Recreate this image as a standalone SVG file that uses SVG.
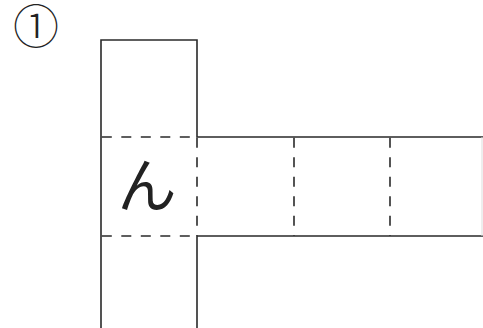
<svg xmlns="http://www.w3.org/2000/svg" width="483" height="328" viewBox="0 0 483 328">
<style>
.s{stroke:#2a2a2a;stroke-width:1.6;fill:none}
.d{stroke:#2a2a2a;stroke-width:1.6;fill:none;stroke-dasharray:10 9.5}
.t{font-family:"Liberation Serif","Noto Sans CJK JP",serif;fill:#222}
</style>
<rect width="483" height="328" fill="#fff"/>
<text class="t" x="36" y="43" font-size="46" font-weight="300" text-anchor="middle">①</text>
<g id="connectors">
<path class="s" d="M101 328V40H197V137H483M197 328V236H483"/>
<path class="d" d="M101.8 137H197M101.8 236H197M197 137.8V236M294 137.8V236M390 137.8V236"/>
<path d="M482 137V236" stroke="#ddd" stroke-width="1"/>
</g>
<g id="cell">
<text class="t" x="147" y="207" font-size="59" font-weight="400" text-anchor="middle" font-family="Noto Sans CJK JP">ん</text>
</g>
</svg>
